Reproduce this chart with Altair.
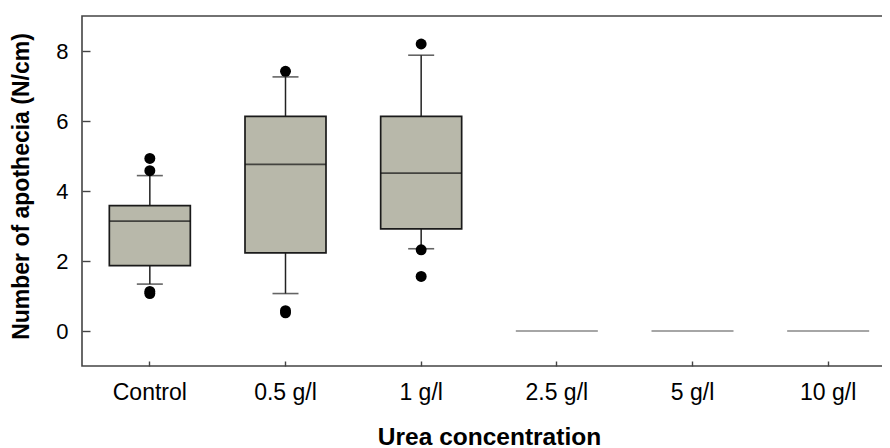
import altair as alt
import pandas as pd

groups = ["Control", "0.5 g/l", "1 g/l", "2.5 g/l", "5 g/l", "10 g/l"]
q1 = [1.87, 2.23, 2.92, 0, 0, 0]
med = [3.14, 4.76, 4.51, 0, 0, 0]
q3 = [3.58, 6.13, 6.13, 0, 0, 0]
w_lo = [1.34, 1.07, 2.35, 0, 0, 0]
w_hi = [4.44, 7.26, 7.88, 0, 0, 0]

out_group = ["Control", "Control", "Control", "Control",
             "0.5 g/l", "0.5 g/l", "0.5 g/l",
             "1 g/l", "1 g/l", "1 g/l"]
out_value = [4.93, 4.58, 1.13, 1.07,
             7.42, 0.58, 0.52,
             8.2, 2.32, 1.56]

y_ticks = [0, 2, 4, 6, 8]

stats = pd.DataFrame({"group": groups, "q1": q1, "med": med, "q3": q3,
                      "lo": w_lo, "hi": w_hi})
boxes = stats[stats["q3"] > stats["q1"]]
flat = stats[stats["q3"] <= stats["q1"]]
outs = pd.DataFrame({"group": out_group, "value": out_value})

x = alt.X("group:N", sort=groups,
          scale=alt.Scale(paddingInner=0, paddingOuter=0),
          axis=alt.Axis(title="Urea concentration", labelAngle=0,
                        offset=-5, tickSize=5, domain=False,
                        labelFontSize=23, titleFontSize=24.5,
                        labelPadding=15, titlePadding=21))
yscale = alt.Scale(domain=[-1, 9], nice=False, zero=False)
yaxis = alt.Axis(title="Number of apothecia (N/cm)", values=y_ticks,
                 offset=-8, tickSize=8, domain=False, labelPadding=14,
                 labelFontSize=22, titleFontSize=23, titlePadding=22,
                 titleY=170)

line_col = "#222222"

whisk_up = alt.Chart(boxes).mark_rule(color=line_col, strokeWidth=1.5).encode(
    x=x, y=alt.Y("q3:Q", scale=yscale, axis=yaxis), y2="hi:Q")
whisk_dn = alt.Chart(boxes).mark_rule(color=line_col, strokeWidth=1.5).encode(
    x=x, y=alt.Y("lo:Q", scale=yscale), y2="q1:Q")
cap_hi = alt.Chart(boxes).mark_tick(color=line_col, size=26, thickness=1.6).encode(
    x=x, y=alt.Y("hi:Q", scale=yscale))
cap_lo = alt.Chart(boxes).mark_tick(color=line_col, size=26, thickness=1.6).encode(
    x=x, y=alt.Y("lo:Q", scale=yscale))
box = alt.Chart(boxes).mark_bar(size=81, color="#b8b8aa", stroke="#1a1a1a",
                                strokeWidth=1.7).encode(
    x=x, y=alt.Y("q1:Q", scale=yscale), y2="q3:Q")
median = alt.Chart(boxes).mark_tick(color="#111111", size=81, thickness=1.7).encode(
    x=x, y=alt.Y("med:Q", scale=yscale))
flat_line = alt.Chart(flat).mark_tick(color="#555555", size=82, thickness=1.6).encode(
    x=x, y=alt.Y("med:Q", scale=yscale))
points = alt.Chart(outs).mark_circle(color="black", opacity=1, size=120).encode(
    x=x, y=alt.Y("value:Q", scale=yscale))

chart = alt.layer(whisk_up, whisk_dn, cap_hi, cap_lo, box, median, flat_line, points).properties(
    width=814, height=350,
    autosize=alt.AutoSizeParams(type="none"),
    padding={"left": 74, "top": 8, "right": -14, "bottom": 82},
).configure_view(
    stroke="#444444", strokeWidth=1.6
).configure_axis(
    labelFont="Liberation Sans", titleFont="Liberation Sans",
    titleFontWeight="bold",
    labelColor="black", titleColor="black",
    tickColor="#444444", tickWidth=1.4, grid=False
)

chart.save("out.html", embed_options={"renderer": "svg", "actions": False})
